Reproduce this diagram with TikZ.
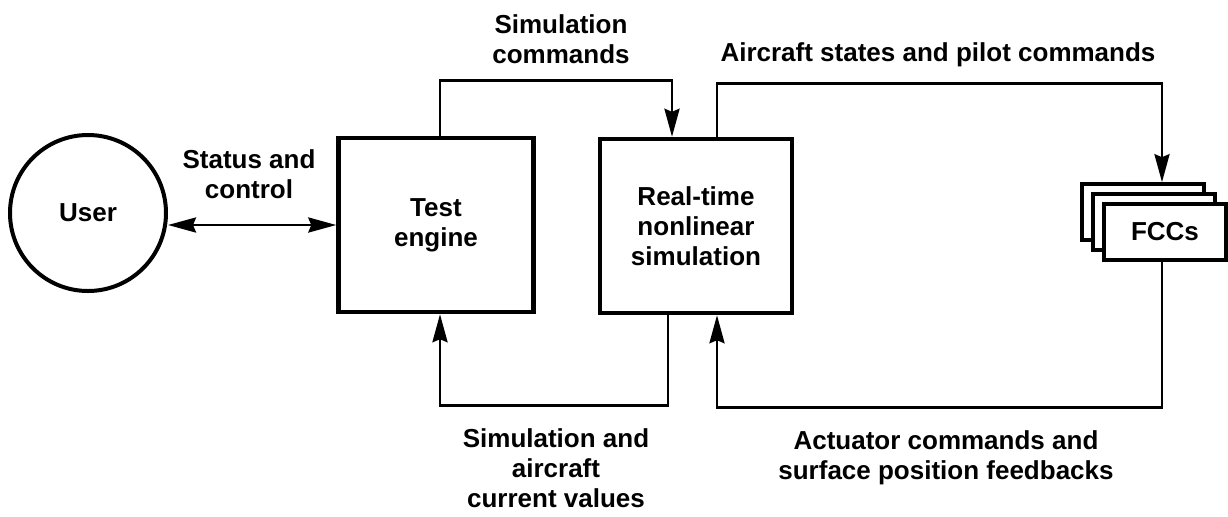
\documentclass[tikz,border=0pt]{standalone}
\usepackage{fontspec}
\setmainfont{Liberation Sans}
\usepackage{tikz}
\usetikzlibrary{
  arrows,
  arrows.meta,
  calc,
  positioning}

\begin{document}
\begin{tikzpicture}[x=0.5pt,y=-0.5pt,
    >={Stealth[length=14pt,width=7.5pt,inset=1.5pt]},
    every node/.style={font=\bfseries\fontsize{13}{15}\selectfont,align=center},
    block/.style={rectangle,draw,line width=2.2pt,minimum width=96pt,minimum height=87pt},
    card/.style={rectangle,draw,fill=white,line width=1.8pt,minimum width=61pt,minimum height=28pt},
    link/.style={line width=1.4pt}]
        \useasboundingbox (0,0) rectangle (1228,516);
        % Nodes
        \node(user) at (88,213)[circle,draw,line width=2pt,minimum size=78pt] {User};
        \node(test) at (436,225)[block,minimum width=97.5pt] {Test\\engine};
        \node(sim) at (696,226)[block] {Real-time\\nonlinear\\simulation};
        \node(fccback) at (1143,212)[card] {};
        \node(fccmid) at (1154,222)[card] {};
        \node(fcc) at (1165,232)[card] {FCCs};
        % Labels
        \node(lblsimcmd) at (561,39) {Simulation\\commands};
        \node(lblstates) at (938,55) {Aircraft states and pilot commands};
        \node(lblstatus) at (249,174) {Status and\\control};
        \node(lblvalues) at (556,468) {Simulation and\\aircraft\\current values};
        \node(lblact) at (946,458) {Actuator commands and\\surface position feedbacks};
        % Links
        \draw[link,<->] (user.east |- test.west) -- (test.west);
        \draw[link,->] ([xshift=2pt]test.north) -- ++(0,-55) -| ([xshift=-12pt]sim.north);
        \draw[link,->] ([xshift=10.5pt]sim.north) -- ++(0,-53) -| ([xshift=9.5pt]fccback.north);
        \draw[link,->] ([xshift=-14pt]sim.south) -- ++(0,90) -| ([xshift=2pt]test.south);
        \draw[link,->] ([xshift=-1.5pt]fcc.south) -- ++(0,146) -| ([xshift=10.5pt]sim.south);
    \end{tikzpicture}
\end{document}
